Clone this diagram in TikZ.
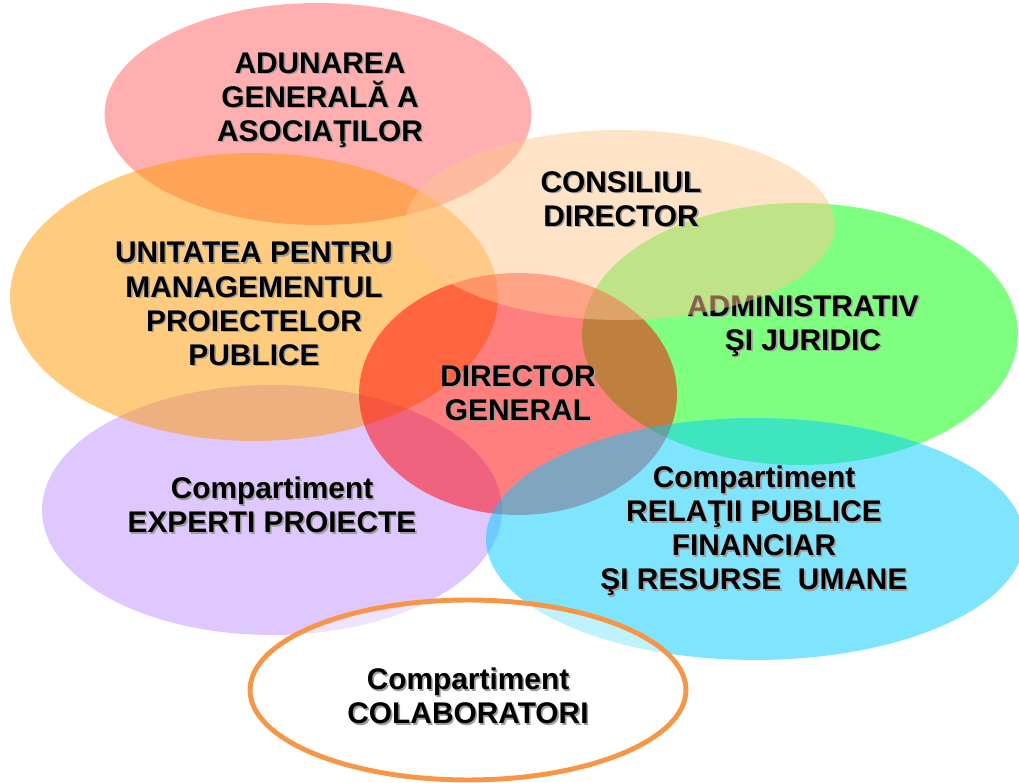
\documentclass[tikz,border=0pt]{standalone}
\usepackage{fontspec}
\setmainfont{Liberation Sans}
\usetikzlibrary{shapes.geometric}
\definecolor{pinkfill}{HTML}{FF6060}
\definecolor{orangefill}{HTML}{FF9900}
\definecolor{peachfill}{HTML}{FFC890}
\definecolor{greenfill}{HTML}{00FF00}
\definecolor{redfill}{HTML}{FF0000}
\definecolor{purplefill}{HTML}{C090FF}
\definecolor{cyanfill}{HTML}{00CCFF}
\definecolor{ringorange}{HTML}{F79646}
\tikzset{%
    oval/.style={ellipse, inner sep=0pt, draw=none, fill opacity=0.5},
    lbl/.style={font=\bfseries\fontsize{17}{19.4}\selectfont, align=center, text=black, inner sep=0pt},
    lblshadow/.style={lbl, text=black!38},
}
% label with a grey shadow behind it
\newcommand{\ovallabel}[3]{%
    \node[lblshadow] (#1s) at ([shift={(1.6,1.6)}]#2) {#3};
    \node[lbl] (#1) at (#2) {#3};
}

\begin{document}
\begin{tikzpicture}[x=0.02cm, y=-0.02cm]
    \useasboundingbox (0,0) rectangle (1019,783);

    % adunarea generala
    \node[oval, fill=pinkfill, minimum width=8.54cm, minimum height=4.44cm] (aga) at (318,114) {};
    \ovallabel{agaT}{320,100}{ADUNAREA\\GENERALĂ A\\ASOCIAŢILOR}

    % experti proiecte
    \node[oval, fill=purplefill, minimum width=9.2cm, minimum height=5cm] (exp) at (272,510) {};
    \ovallabel{expT}{272,505}{Compartiment\\EXPERTI PROIECTE}

    % unitatea pentru management
    \node[oval, fill=orangefill, minimum width=9.76cm, minimum height=5.76cm] (upp) at (254,297) {};
    \ovallabel{uppT}{254,304}{UNITATEA PENTRU\\MANAGEMENTUL\\PROIECTELOR\\PUBLICE}

    % administrativ
    \node[oval, fill=greenfill, minimum width=8.72cm, minimum height=5.24cm] (adm) at (800,334) {};
    \ovallabel{admT}{803,326}{ADMINISTRATIV\\ŞI JURIDIC}

    % director general
    \node[oval, fill=redfill, minimum width=6.36cm, minimum height=4.84cm] (dg) at (518,394) {};
    \ovallabel{dgT}{518,393}{DIRECTOR\\GENERAL}

    % consiliul director
    \node[oval, fill=peachfill, minimum width=8.6cm, minimum height=3.8cm] (cd) at (620,225) {};
    \ovallabel{cdT}{621,199}{CONSILIUL\\DIRECTOR}

    % relatii publice
    \node[oval, fill=cyanfill, minimum width=10.76cm, minimum height=4.84cm] (rp) at (755,539) {};
    \ovallabel{rpT}{754,531}{Compartiment\\RELAŢII PUBLICE\\FINANCIAR\\ŞI RESURSE~~UMANE}

    % colaboratori
    \node[oval, fill=white, draw=ringorange, draw opacity=1, line width=2.8pt,
          minimum width=8.72cm, minimum height=3.6cm] (col) at (468,690) {};
    \ovallabel{colT}{468,696}{Compartiment\\COLABORATORI}
\end{tikzpicture}
\end{document}
